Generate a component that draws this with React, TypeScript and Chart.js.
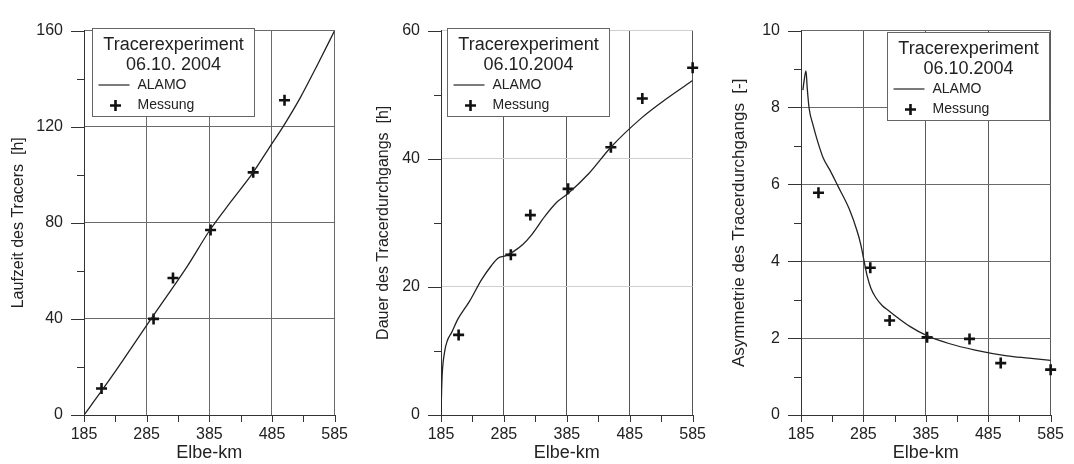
import React, { useEffect, useRef } from 'react';
import { Chart, registerables } from 'chart.js';

Chart.register(...registerables);

// ---------- shared axis data ----------
const X_MAJOR = [185, 285, 385, 485, 585];
const X_MINOR = [235, 335, 435, 535];
const MEAS_KM = [213, 296, 327, 387, 455, 505, 585];

// ---------- panel 1: Laufzeit ----------
const LAUF_Y_MAJOR = [0, 40, 80, 120, 160];
const LAUF_Y_MINOR = [20, 60, 100, 140];
const LAUF_MODEL_KM = [185, 213, 240, 266, 292, 320, 350, 386, 420, 455, 480, 505, 530, 558, 585];
const LAUF_MODEL = [0, 10, 20, 30, 40, 50.5, 62, 77, 89, 101, 111, 121, 132, 146, 160];
const LAUF_MEAS = [11, 40, 57, 77, 101, 131];

// ---------- panel 2: Dauer ----------
const DAUER_Y_MAJOR = [0, 20, 40, 60];
const DAUER_Y_MINOR = [10, 30, 50];
const DAUER_MODEL_KM = [185, 186, 187, 191, 195, 202, 212, 230, 250, 265, 276, 286, 300, 315, 328, 350, 369, 386, 420, 455, 503, 544, 585];
const DAUER_MODEL = [0, 4, 6.5, 10, 11.6, 12.9, 15, 17.7, 21.2, 23.3, 24.5, 24.8, 25.5, 26.6, 28, 31, 33.2, 34.5, 37.7, 41.8, 46.3, 49.4, 52.2];
const DAUER_MEAS = [12.5, 25, 31.2, 35.3, 41.8, 49.4, 54.2];

// ---------- panel 3: Asymmetrie ----------
const ASYM_Y_MAJOR = [0, 2, 4, 6, 8, 10];
const ASYM_Y_MINOR = [1, 3, 5, 7, 9];
const ASYM_MODEL_KM = [188, 190, 193, 195, 198, 204, 212, 221, 232, 244, 262, 275, 281, 286, 291, 297, 305, 315, 325, 340, 360, 386, 422, 464, 515, 550, 585];
const ASYM_MODEL = [8.45, 8.7, 8.95, 8.5, 7.98, 7.56, 7.1, 6.67, 6.35, 5.96, 5.37, 4.78, 4.42, 4.01, 3.62, 3.3, 3.05, 2.85, 2.72, 2.53, 2.3, 2.07, 1.86, 1.69, 1.54, 1.48, 1.42];
const ASYM_MEAS = [5.78, 3.83, 2.46, 2.02, 1.98, 1.35, 1.18];

const FONT = "'Liberation Sans', Arial, Helvetica, sans-serif";
const TEXT = '#222';

const decorPlugin = {
  id: 'decor',
  afterDatasetsDraw(chart: any, _args: any, opts: any) {
    const { ctx, chartArea } = chart;
    const x = chart.scales.x;
    const y = chart.scales.y;
    ctx.save();
    ctx.strokeStyle = '#333';
    ctx.lineWidth = 1;
    ctx.beginPath();
    for (const v of [...X_MAJOR, ...X_MINOR]) {
      const px = Math.round(x.getPixelForValue(v)) + 0.5;
      ctx.moveTo(px, chartArea.bottom);
      ctx.lineTo(px, chartArea.bottom + 7);
    }
    for (const v of opts.yMajor) {
      const py = Math.round(y.getPixelForValue(v)) + 0.5;
      ctx.moveTo(chartArea.left - 13, py);
      ctx.lineTo(chartArea.left, py);
    }
    for (const v of opts.yMinor) {
      const py = Math.round(y.getPixelForValue(v)) + 0.5;
      ctx.moveTo(chartArea.left - 7, py);
      ctx.lineTo(chartArea.left, py);
    }
    ctx.stroke();

    // legend box
    const L = opts.legend;
    const bx = Math.round(L.x) + 0.5;
    const by = Math.round(L.y) + 0.5;
    const bw = 162;
    const bh = 88;
    ctx.fillStyle = '#fff';
    ctx.fillRect(bx, by, bw, bh);
    ctx.strokeStyle = '#666';
    ctx.strokeRect(bx, by, bw, bh);
    ctx.fillStyle = TEXT;
    ctx.textBaseline = 'middle';
    ctx.textAlign = 'center';
    ctx.font = `18px ${FONT}`;
    ctx.fillText('Tracerexperiment', bx + bw / 2, by + 17);
    ctx.fillText(L.date, bx + bw / 2, by + 37);
    ctx.textAlign = 'left';
    ctx.font = `14px ${FONT}`;
    ctx.fillText('ALAMO', bx + 45, by + 57);
    ctx.fillText('Messung', bx + 45, by + 77);
    ctx.strokeStyle = '#222';
    ctx.lineWidth = 1.2;
    ctx.beginPath();
    ctx.moveTo(bx + 6, by + 56.5);
    ctx.lineTo(bx + 37, by + 56.5);
    ctx.stroke();
    ctx.lineWidth = 2.6;
    ctx.strokeStyle = '#111';
    ctx.beginPath();
    ctx.moveTo(bx + 23 - 5.5, by + 77);
    ctx.lineTo(bx + 23 + 5.5, by + 77);
    ctx.moveTo(bx + 23, by + 77 - 5.5);
    ctx.lineTo(bx + 23, by + 77 + 5.5);
    ctx.stroke();
    ctx.restore();
  },
};

type Panel = {
  left: number;
  modelKm: number[];
  model: number[];
  meas: number[];
  yMajor: number[];
  yMinor: number[];
  yTitle: string;
  yTitleSize: number;
  yTitlePad: number;
  axisWidth: number;
  padRight: number;
  padTop: number;
  xGrid: string;
  yGrid: string;
  legend: { x: number; y: number; date: string };
};

const PANELS: Panel[] = [
  {
    left: 0,
    modelKm: LAUF_MODEL_KM,
    model: LAUF_MODEL,
    meas: LAUF_MEAS,
    yMajor: LAUF_Y_MAJOR,
    yMinor: LAUF_Y_MINOR,
    yTitle: 'Laufzeit des Tracers  [h]',
    yTitleSize: 16,
    yTitlePad: 9,
    axisWidth: 84,
    padRight: 14,
    padTop: 21,
    xGrid: '#6a6a6a',
    yGrid: '#6a6a6a',
    legend: { x: 92, y: 28, date: '06.10. 2004' },
  },
  {
    left: 358,
    modelKm: DAUER_MODEL_KM,
    model: DAUER_MODEL,
    meas: DAUER_MEAS,
    yMajor: DAUER_Y_MAJOR,
    yMinor: DAUER_Y_MINOR,
    yTitle: 'Dauer des Tracerdurchgangs  [h]',
    yTitleSize: 16,
    yTitlePad: 16,
    axisWidth: 83,
    padRight: 16,
    padTop: 20,
    xGrid: '#555',
    yGrid: '#cfcfcf',
    legend: { x: 89, y: 28, date: '06.10.2004' },
  },
  {
    left: 716,
    modelKm: ASYM_MODEL_KM,
    model: ASYM_MODEL,
    meas: ASYM_MEAS,
    yMajor: ASYM_Y_MAJOR,
    yMinor: ASYM_Y_MINOR,
    yTitle: 'Asymmetrie des Tracerdurchgangs  [-]',
    yTitleSize: 17,
    yTitlePad: 13,
    axisWidth: 85,
    padRight: 15,
    padTop: 21,
    xGrid: '#5a5a5a',
    yGrid: '#6a6a6a',
    legend: { x: 171, y: 32, date: '06.10.2004' },
  },
];

function PanelChart({ p }: { p: Panel }) {
  const ref = useRef<HTMLCanvasElement | null>(null);
  useEffect(() => {
    if (!ref.current) return;
    const yMin = p.yMajor[0];
    const yMax = p.yMajor[p.yMajor.length - 1];
    const chart = new Chart(ref.current, {
      type: 'scatter',
      data: {
        datasets: [
          {
            label: 'ALAMO',
            data: p.modelKm.map((k, i) => ({ x: k, y: p.model[i] })),
            showLine: true,
            borderColor: '#222',
            borderWidth: 1.3,
            pointRadius: 0,
            cubicInterpolationMode: 'monotone',
          },
          {
            label: 'Messung',
            data: p.meas.map((v, i) => ({ x: MEAS_KM[i], y: v })),
            pointStyle: 'cross',
            pointRadius: 5.5,
            pointBorderWidth: 2.6,
            pointBorderColor: '#111',
            borderColor: '#111',
            clip: false,
          },
        ],
      } as any,
      options: {
        animation: false,
        responsive: false,
        maintainAspectRatio: false,
        layout: { padding: { left: 0, right: p.padRight, top: p.padTop, bottom: 0 } },
        plugins: {
          legend: { display: false },
          tooltip: { enabled: false },
          decor: { yMajor: p.yMajor, yMinor: p.yMinor, legend: p.legend },
        } as any,
        scales: {
          x: {
            type: 'linear',
            min: 185,
            max: 585,
            afterBuildTicks: (s: any) => {
              s.ticks = X_MAJOR.map((v) => ({ value: v }));
            },
            afterFit: (s: any) => {
              s.height = 49;
            },
            grid: { color: p.xGrid, lineWidth: 1, drawTicks: false },
            border: { color: '#333', width: 1 },
            ticks: { padding: 10, color: TEXT, font: { family: FONT, size: 16 }, maxRotation: 0, autoSkip: false },
            title: {
              display: true,
              text: 'Elbe-km',
              color: TEXT,
              font: { family: FONT, size: 18 },
              padding: { top: 0, bottom: 0 },
            },
          },
          y: {
            type: 'linear',
            min: yMin,
            max: yMax,
            afterBuildTicks: (s: any) => {
              s.ticks = p.yMajor.map((v) => ({ value: v }));
            },
            afterFit: (s: any) => {
              s.width = p.axisWidth;
            },
            grid: { color: p.yGrid, lineWidth: 1, drawTicks: false },
            border: { color: '#333', width: 1 },
            ticks: { padding: 21, color: TEXT, font: { family: FONT, size: 16 }, autoSkip: false },
            title: {
              display: true,
              text: p.yTitle,
              color: TEXT,
              font: { family: FONT, size: p.yTitleSize },
              padding: { top: p.yTitlePad, bottom: 0 },
            },
          },
        },
      } as any,
      plugins: [decorPlugin],
    });
    return () => chart.destroy();
  }, [p]);
  return (
    <canvas
      ref={ref}
      width={358}
      height={464}
      style={{ position: 'absolute', left: p.left, top: 0, width: 358, height: 464 }}
    />
  );
}

export default function App() {
  return (
    <div
      style={{
        position: 'absolute',
        left: 0,
        top: 0,
        width: 1074,
        height: 464,
        background: '#fff',
        overflow: 'hidden',
      }}
    >
      {PANELS.map((p, i) => (
        <PanelChart key={i} p={p} />
      ))}
    </div>
  );
}
